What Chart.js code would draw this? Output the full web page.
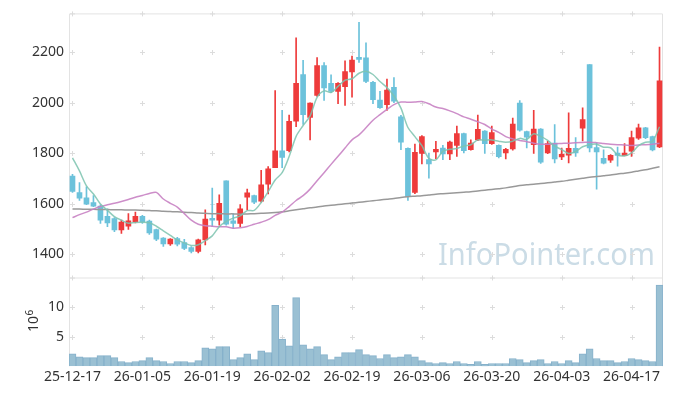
<!DOCTYPE html>
<html>
<head>
<meta charset="utf-8">
<script src="https://cdn.jsdelivr.net/npm/chart.js@4.4.1/dist/chart.umd.min.js"></script>
<style>
  html, body { margin: 0; padding: 0; background: #fff; }
  #wrap { width: 673px; height: 396px; }
</style>
</head>
<body>
<div id="wrap"><canvas id="grafico" width="673" height="396"></canvas></div>
<script>
const dates = [
  '25-12-17','25-12-18','25-12-19','25-12-22','25-12-23','25-12-24','25-12-26','25-12-29','25-12-30',
  '26-01-02','26-01-05','26-01-06','26-01-07','26-01-08','26-01-09','26-01-12','26-01-13','26-01-14','26-01-15','26-01-16',
  '26-01-19','26-01-20','26-01-21','26-01-22','26-01-23','26-01-26','26-01-27','26-01-28','26-01-29','26-01-30',
  '26-02-02','26-02-03','26-02-04','26-02-05','26-02-06','26-02-09','26-02-10','26-02-11','26-02-12','26-02-13',
  '26-02-19','26-02-20','26-02-23','26-02-24','26-02-25','26-02-26','26-02-27',
  '26-03-03','26-03-04','26-03-05','26-03-06','26-03-09','26-03-10','26-03-11','26-03-12','26-03-13',
  '26-03-16','26-03-17','26-03-18','26-03-19','26-03-20','26-03-23','26-03-24','26-03-25','26-03-26','26-03-27',
  '26-03-30','26-03-31','26-04-01','26-04-02','26-04-03','26-04-06','26-04-07','26-04-08','26-04-09','26-04-10',
  '26-04-13','26-04-14','26-04-15','26-04-16','26-04-17','26-04-20','26-04-21','26-04-22','26-04-23'
];

const opens = [
  1710,1644,1624,1605,1591,1550,1541,1496,1511,1528,1550,1531,1498,1464,1441,1462,1446,1427,1411,1457,
  1542,1535,1691,1532,1522,1626,1632,1610,1678,1743,1810,1810,1927,2112,1942,2029,2147,2077,2045,2064,
  2122,2180,2178,2081,2011,1993,2061,1944,1820,1645,1799,1775,1805,1821,1797,1831,1878,1814,1853,1888,
  1838,1831,1801,1817,1999,1886,1834,1896,1801,1840,1786,1793,1820,1899,2151,1823,1780,1773,1801,1791,
  1808,1860,1901,1866,1825
];
const highs = [
  1717,1684,1667,1632,1596,1580,1545,1535,1561,1567,1554,1535,1500,1466,1462,1467,1459,1430,1460,1576,
  1662,1635,1691,1561,1597,1658,1634,1732,1747,2048,1970,1951,2257,2168,2000,2179,2159,2111,2080,2166,
  2185,2319,2237,2085,2045,2094,2100,1950,1822,1836,1870,1801,1847,1831,1848,1908,1880,1853,1951,1890,
  1908,1833,1820,1939,2009,1888,1970,1898,1847,1914,1821,1960,1862,1980,2151,1840,1814,1795,1825,1838,
  1888,1916,1903,1868,2221
];
const lows = [
  1645,1613,1596,1589,1522,1509,1490,1483,1498,1524,1522,1479,1454,1431,1435,1433,1418,1405,1405,1437,
  1509,1515,1515,1502,1509,1576,1600,1606,1639,1743,1743,1805,1905,1914,1853,2025,2009,2040,1996,1990,
  2022,2160,2080,1996,1978,1970,2000,1814,1613,1640,1758,1701,1779,1775,1775,1788,1801,1812,1850,1799,
  1835,1782,1778,1812,1888,1821,1799,1760,1798,1762,1775,1762,1788,1849,1805,1658,1758,1764,1749,1790,
  1788,1855,1858,1809,1822
];
const closes = [
  1649,1622,1598,1591,1535,1524,1496,1528,1532,1550,1528,1485,1460,1441,1460,1440,1423,1411,1457,1539,
  1535,1602,1519,1522,1580,1643,1606,1675,1738,1810,1784,1927,2077,1953,1999,2147,2059,2045,2077,2124,
  2169,2172,2085,2012,1981,2050,2006,1844,1628,1804,1866,1758,1816,1797,1844,1878,1810,1840,1895,1838,
  1882,1787,1816,1916,1892,1864,1896,1765,1838,1778,1796,1820,1801,1933,1821,1805,1761,1792,1792,1801,
  1862,1901,1862,1813,2087
];

// moving averages
const ma5 = [
  1782,1730,1671,1639,1599,1574,1549,1535,1523,1526,1527,1525,1511,1493,1475,1457,1445,1435,1438,1454,
  1473,1509,1530,1543,1552,1573,1574,1605,1648,1694,1723,1787,1867,1910,1948,2021,2047,2041,2065,2090,
  2095,2117,2125,2112,2084,2060,2027,1979,1902,1866,1830,1780,1774,1808,1816,1819,1829,1834,1853,1852,
  1853,1848,1844,1848,1859,1855,1877,1867,1851,1828,1815,1799,1807,1826,1834,1836,1824,1822,1794,1790,
  1802,1830,1844,1848,1905
];
const ma20 = [
  1545,1557,1567,1579,1589,1596,1602,1609,1617,1626,1633,1641,1645,1619,1602,1587,1561,1535,1519,1513,
  1511,1509,1509,1503,1505,1510,1519,1527,1537,1554,1567,1589,1613,1632,1658,1691,1723,1756,1788,1821,
  1853,1873,1901,1931,1953,1974,1993,2003,2002,2003,2005,1996,1983,1977,1968,1957,1944,1935,1925,1914,
  1896,1883,1866,1857,1851,1846,1840,1836,1836,1838,1839,1840,1842,1843,1844,1842,1839,1836,1834,1833,
  1831,1833,1834,1836,1840
];
const ma60 = [
  1579,1579,1578,1578,1577,1577,1576,1576,1575,1575,1574,1573,1572,1570,1569,1568,1566,1565,1563,1562,
  1561,1561,1560,1560,1559,1560,1561,1562,1563,1565,1568,1572,1576,1580,1584,1587,1591,1594,1597,1600,
  1603,1606,1609,1612,1615,1618,1621,1625,1628,1630,1632,1635,1638,1640,1642,1644,1646,1648,1651,1654,
  1657,1660,1663,1667,1672,1675,1677,1680,1683,1686,1689,1693,1697,1701,1705,1708,1711,1714,1718,1721,
  1725,1730,1735,1741,1747
];

// volume, millions of shares
const volumes = [
  2.1,1.6,1.45,1.45,1.8,1.8,1.45,0.8,0.6,0.8,0.95,1.45,0.95,0.8,0.45,0.8,0.8,0.6,0.95,3.1,
  2.95,3.3,3.3,1.1,1.45,2.1,1.1,2.6,2.3,10.3,4.6,3.45,11.6,3.6,2.95,3.3,1.95,1.1,1.6,2.3,
  2.3,2.8,1.95,1.8,1.3,1.95,1.45,1.6,1.95,1.6,0.95,0.6,0.45,0.6,0.45,0.8,0.45,0.3,0.8,0.3,
  0.45,0.45,0.45,1.3,1.1,0.6,0.95,1.1,0.45,0.8,0.45,0.95,0.6,2.1,2.95,1.3,0.95,0.95,0.6,0.8,
  1.3,1.1,0.95,0.8,13.7
];

const priceTicks = [1400, 1600, 1800, 2000, 2200];
const volTicks = [5, 10];

const corSobe = '#ee3b3b';
const corDesce = '#6cc2db';
const candleCores = closes.map((c, i) => c >= opens[i] ? corSobe : corDesce);

const FONTE = '"Noto Sans", "DejaVu Sans", sans-serif';

// moldura, cruzinhas da grade, marca d'agua e titulo 10^6
const extras = {
  id: 'extras',
  beforeDatasetsDraw(chart) {
    const { ctx, chartArea, scales } = chart;
    const y = scales.y, yv = scales.yv, x = scales.x;
    const L = chartArea.left, R = chartArea.right;

    ctx.save();
    ctx.font = '31px ' + FONTE;
    const w = ctx.measureText('InfoPointer.com').width;
    ctx.translate(438, 265);
    ctx.scale(217 / w, 1);
    ctx.fillStyle = '#cbdce6';
    ctx.textBaseline = 'alphabetic';
    ctx.fillText('InfoPointer.com', 0, 0);
    ctx.restore();

    ctx.save();
    ctx.strokeStyle = '#e3e3e3';
    ctx.lineWidth = 1;
    ctx.beginPath();
    ctx.rect(L + 0.5, y.top + 0.5, R - L - 1, y.bottom - y.top);
    ctx.moveTo(L + 0.5, yv.top);
    ctx.lineTo(L + 0.5, yv.bottom);
    ctx.moveTo(R - 0.5, yv.top);
    ctx.lineTo(R - 0.5, yv.bottom);
    ctx.stroke();

    const cruz = (px, py) => {
      ctx.moveTo(px - 2.5, py);
      ctx.lineTo(px + 2.5, py);
      ctx.moveTo(px, py - 2.5);
      ctx.lineTo(px, py + 2.5);
    };
    ctx.strokeStyle = '#dcdcdc';
    ctx.beginPath();
    for (let i = 0; i < dates.length; i += 10) {
      const px = Math.round(x.getPixelForValue(i)) + 0.5;
      priceTicks.forEach(v => cruz(px, Math.round(y.getPixelForValue(v)) + 0.5));
      volTicks.forEach(v => cruz(px, Math.round(yv.getPixelForValue(v)) + 0.5));
      cruz(px, y.top + 0.5);
      cruz(px, y.bottom + 0.5);
    }
    ctx.stroke();
    ctx.restore();
  },
  afterDraw(chart) {
    const { ctx } = chart;
    ctx.save();
    ctx.translate(37.5, 332);
    ctx.rotate(-Math.PI / 2);
    ctx.fillStyle = '#333';
    ctx.font = '14px ' + FONTE;
    ctx.textBaseline = 'alphabetic';
    ctx.fillText('10', 0, 0);
    const w = ctx.measureText('10').width;
    ctx.font = '10px ' + FONTE;
    ctx.fillText('6', w + 0.5, -5);
    ctx.restore();
  }
};

const ctx = document.getElementById('grafico').getContext('2d');
new Chart(ctx, {
  data: {
    labels: dates,
    datasets: [
      { type: 'line', data: ma5, yAxisID: 'y', borderColor: 'rgba(125,195,175,0.85)', borderWidth: 1.5, pointRadius: 0, tension: 0.3, order: 0 },
      { type: 'line', data: ma20, yAxisID: 'y', borderColor: 'rgba(200,130,195,0.9)', borderWidth: 1.5, pointRadius: 0, tension: 0.3, order: 0 },
      { type: 'line', data: ma60, yAxisID: 'y', borderColor: '#999999', borderWidth: 1.5, pointRadius: 0, tension: 0.3, order: 0 },
      { type: 'bar', data: opens.map((o, i) => [o, closes[i]]), yAxisID: 'y', backgroundColor: candleCores, barThickness: 5, minBarLength: 1, grouped: false, order: 1 },
      { type: 'bar', data: lows.map((l, i) => [l, highs[i]]), yAxisID: 'y', backgroundColor: candleCores, barThickness: 1, grouped: false, order: 2 },
      { type: 'bar', data: volumes, yAxisID: 'yv', backgroundColor: '#9ac0d3', borderColor: '#86b1cb', borderWidth: 1, barPercentage: 1, categoryPercentage: 1, grouped: false, order: 3 }
    ]
  },
  options: {
    responsive: false,
    animation: false,
    layout: { padding: { top: 10, right: 10, left: 0, bottom: 9 } },
    plugins: { legend: { display: false }, tooltip: { enabled: false } },
    scales: {
      x: {
        type: 'category',
        offset: true,
        grid: { display: false, drawTicks: false },
        border: { display: false },
        ticks: {
          autoSkip: false,
          maxRotation: 0,
          padding: 2,
          color: '#333',
          font: { family: FONTE, size: 14 },
          callback: (v, i) => i % 10 === 0 ? dates[i] : ''
        }
      },
      yv: {
        stack: 'painel',
        stackWeight: 90,
        position: 'left',
        min: 0,
        max: 15,
        grid: { display: false, drawTicks: false },
        border: { display: false },
        afterBuildTicks: s => { s.ticks = volTicks.map(v => ({ value: v })); },
        afterFit: s => { s.width = 69; },
        ticks: { padding: 5, color: '#333', font: { family: FONTE, size: 14 }, callback: v => String(v) }
      },
      y: {
        stack: 'painel',
        stackWeight: 268,
        position: 'left',
        min: 1308,
        max: 2354,
        grid: { display: false, drawTicks: false },
        border: { display: false },
        afterBuildTicks: s => { s.ticks = priceTicks.map(v => ({ value: v })); },
        afterFit: s => { s.width = 69; },
        ticks: { padding: 5, color: '#333', font: { family: FONTE, size: 14 }, callback: v => String(v) }
      }
    }
  },
  plugins: [extras]
});
</script>
</body>
</html>
